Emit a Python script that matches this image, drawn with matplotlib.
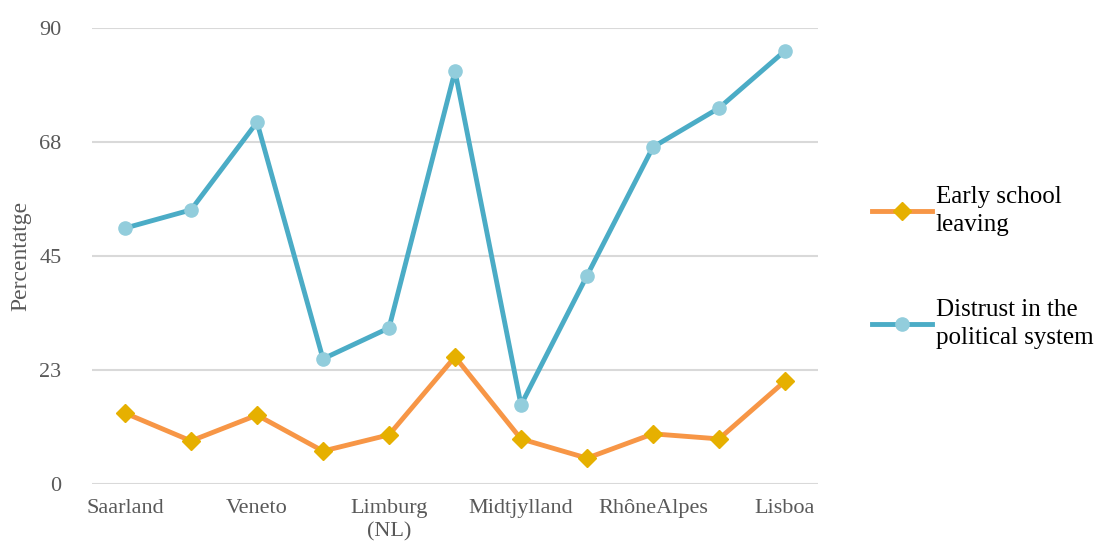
import numpy as np
import matplotlib.pyplot as plt

plt.rcParams['font.family'] = ['Liberation Serif', 'DejaVu Serif']

# shown category labels (every second region)
label_pos = [0, 2, 4, 6, 8, 10]
labels = ['Saarland', 'Veneto', 'Limburg\n(NL)', 'Midtjylland', 'RhôneAlpes', 'Lisboa']

early_leaving = [14.0, 8.5, 13.6, 6.5, 9.7, 25.1, 8.9, 5.1, 9.9, 8.9, 20.3]
distrust = [50.5, 54.1, 71.4, 24.7, 30.8, 81.5, 15.6, 41.1, 66.5, 74.2, 85.5]

yticks = [0, 22.5, 45, 67.5, 90]
ytick_labels = ['0', '23', '45', '68', '90']

fig = plt.figure(figsize=(10.96, 5.46), dpi=100)
ax = fig.add_axes([92 / 1096, 62 / 546, 726 / 1096, 456 / 546])

x = np.arange(len(distrust))
ax.plot(x, early_leaving, color='#F79646', lw=3.5, marker='D', ms=9.5,
        mfc='#E6B000', mec='#E6B000', label='Early school\nleaving', zorder=3)
ax.plot(x, distrust, color='#4BACC6', lw=3.5, marker='o', ms=9.5,
        mfc='#92CDDC', mec='#92CDDC', label='Distrust in the\npolitical system', zorder=3)

ax.set_xlim(-0.5, len(x) - 0.5)
ax.set_ylim(0, 90)
ax.set_yticks(yticks)
ax.set_yticklabels(ytick_labels)
ax.set_xticks(label_pos)
ax.set_xticklabels(labels, linespacing=1.3)
ax.tick_params(axis='both', length=0, labelsize=16, labelcolor='#595959')
ax.tick_params(axis='y', pad=22)
ax.tick_params(axis='x', pad=11)
ax.grid(axis='y', color='#D9D9D9', lw=1.5)
ax.set_axisbelow(True)
for s in ax.spines.values():
    s.set_visible(False)
ax.set_ylabel('Percentatge', fontsize=17, color='#595959', labelpad=6)

leg = fig.legend(loc='center left', bbox_to_anchor=(0.775, 0.51), frameon=False,
                 fontsize=18, handlelength=2.4, handletextpad=0.15, labelspacing=2.5)
for t in leg.get_texts():
    t.set_linespacing(1.35)

fig.savefig('out.png', dpi=100)
